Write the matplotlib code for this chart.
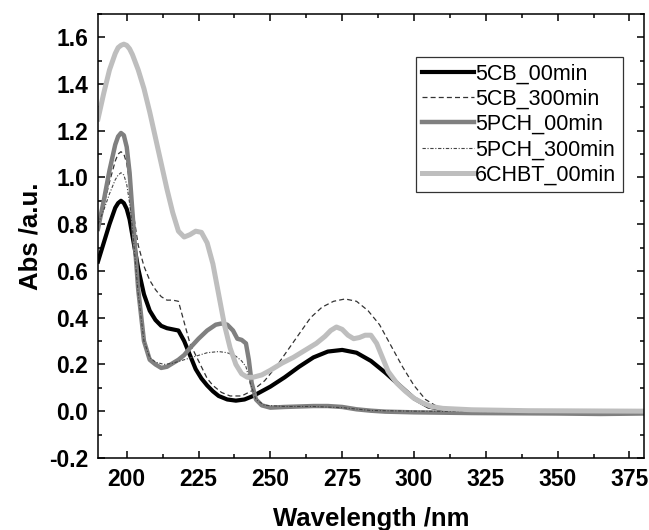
import matplotlib.pyplot as plt
from matplotlib.ticker import MultipleLocator

# UV-Vis spectra
wl_5cb_00 = [190, 192, 194, 196, 197, 198, 199, 200, 201, 202, 204, 206, 208, 210, 212,
             214, 216, 218, 220, 222, 224, 226, 228, 230, 232, 235, 238, 241, 244, 247,
             250, 255, 260, 265, 270, 275, 280, 285, 290, 295, 300, 305, 310, 320, 340,
             380]
abs_5cb_00 = [0.64, 0.72, 0.80, 0.87, 0.89, 0.90, 0.89, 0.865, 0.82, 0.75, 0.61, 0.50,
              0.43, 0.39, 0.365, 0.355, 0.35, 0.345, 0.30, 0.24, 0.18, 0.14, 0.11, 0.085,
              0.065, 0.05, 0.045, 0.05, 0.065, 0.085, 0.105, 0.145, 0.19, 0.23, 0.255,
              0.262, 0.25, 0.215, 0.165, 0.11, 0.055, 0.02, 0.008, 0.003, 0.0, 0.0]

wl_5cb_300 = [190, 192, 194, 196, 197, 198, 199, 200, 201, 202, 204, 206, 208, 210, 212,
              214, 216, 218, 220, 222, 224, 226, 228, 230, 233, 236, 240, 244, 248, 252,
              256, 260, 264, 268, 272, 276, 280, 284, 288, 292, 296, 300, 304, 308, 312,
              320, 340, 380]
abs_5cb_300 = [0.80, 0.88, 0.98, 1.07, 1.10, 1.11, 1.10, 1.06, 0.98, 0.87, 0.71, 0.62,
               0.56, 0.52, 0.49, 0.475, 0.475, 0.47, 0.38, 0.29, 0.24, 0.19, 0.14, 0.11,
               0.08, 0.065, 0.065, 0.09, 0.13, 0.19, 0.26, 0.33, 0.40, 0.445, 0.47, 0.48,
               0.47, 0.43, 0.37, 0.28, 0.19, 0.11, 0.05, 0.02, 0.01, 0.003, 0.0, 0.0]

wl_5pch_00 = [190, 192, 194, 196, 197, 198, 199, 200, 201, 202, 204, 206, 208, 210, 212,
              214, 216, 218, 220, 222, 225, 228, 231, 233, 235, 237, 238.5, 240, 241.5,
              242.5, 243.5, 245, 247, 250, 255, 260, 265, 270, 275, 280, 285, 290, 300,
              320, 350, 365, 380]
abs_5pch_00 = [0.78, 0.90, 1.03, 1.14, 1.175, 1.19, 1.18, 1.13, 1.02, 0.85, 0.52, 0.30,
               0.22, 0.20, 0.185, 0.19, 0.205, 0.22, 0.24, 0.27, 0.31, 0.345, 0.37,
               0.375, 0.37, 0.345, 0.31, 0.305, 0.29, 0.22, 0.12, 0.05, 0.025, 0.015,
               0.018, 0.02, 0.022, 0.022, 0.018, 0.008, 0.002, -0.002, -0.005, -0.008,
               -0.01, -0.012, -0.01]

wl_5pch_300 = [190, 192, 194, 196, 197, 198, 199, 200, 201, 202, 204, 206, 208, 210, 213,
               216, 220, 224, 228, 232, 235, 238, 240, 241.5, 243, 245, 248, 255, 265,
               275, 285, 300, 380]
abs_5pch_300 = [0.80, 0.86, 0.93, 0.99, 1.01, 1.02, 1.01, 0.97, 0.89, 0.78, 0.50, 0.30,
                0.23, 0.21, 0.20, 0.205, 0.22, 0.235, 0.25, 0.255, 0.25, 0.235, 0.215,
                0.19, 0.12, 0.05, 0.025, 0.02, 0.02, 0.015, 0.003, 0.0, -0.005]

wl_6chbt_00 = [190, 192, 194, 196, 197, 198, 199, 200, 201, 202, 204, 206, 208, 210, 212,
               214, 216, 218, 220, 222, 224, 226, 228, 230, 232, 234, 236, 238, 240, 242,
               244, 247, 250, 254, 258, 262, 266, 269, 271, 273, 275, 277, 279, 281, 283,
               285, 287, 289, 291, 294, 297, 300, 303, 306, 310, 320, 340, 380]
abs_6chbt_00 = [1.25, 1.36, 1.46, 1.53, 1.555, 1.565, 1.57, 1.565, 1.55, 1.525, 1.46,
                1.38, 1.28, 1.17, 1.06, 0.95, 0.85, 0.77, 0.745, 0.755, 0.77, 0.765,
                0.72, 0.63, 0.50, 0.37, 0.27, 0.20, 0.16, 0.145, 0.145, 0.155, 0.175,
                0.205, 0.23, 0.26, 0.29, 0.32, 0.345, 0.36, 0.35, 0.325, 0.31, 0.315,
                0.325, 0.325, 0.29, 0.23, 0.17, 0.12, 0.085, 0.055, 0.035, 0.02, 0.012,
                0.006, 0.002, 0.0]

plt.rcParams['font.family'] = ['Liberation Sans', 'DejaVu Sans']

fig = plt.figure(figsize=(6.49, 5.30), dpi=100)
ax = fig.add_axes([0.151, 0.136, 0.841, 0.838])

ax.plot(wl_5cb_00, abs_5cb_00, color='black', lw=3.0, label='5CB_00min')
ax.plot(wl_5cb_300, abs_5cb_300, color='#333333', lw=0.9, ls=(0, (4, 2.5)),
        label='5CB_300min')
ax.plot(wl_5pch_00, abs_5pch_00, color='#808080', lw=3.2, label='5PCH_00min')
ax.plot(wl_5pch_300, abs_5pch_300, color='#444444', lw=0.8,
        ls=(0, (3, 1.5, 1, 1.5)), label='5PCH_300min')
ax.plot(wl_6chbt_00, abs_6chbt_00, color='#bebebe', lw=3.6, label='6CHBT_00min')

ax.set_xlim(190, 380)
ax.set_ylim(-0.2, 1.7)
ax.xaxis.set_major_locator(MultipleLocator(25))
ax.xaxis.set_minor_locator(MultipleLocator(12.5))
ax.yaxis.set_minor_locator(MultipleLocator(0.1))
ax.set_yticks([-0.2, 0.0, 0.2, 0.4, 0.6, 0.8, 1.0, 1.2, 1.4, 1.6])
ax.yaxis.set_major_formatter(plt.FuncFormatter(lambda v, p: f'{v:.1f}'))

ax.tick_params(which='both', direction='in', top=True, right=True, width=1.1)
ax.tick_params(which='major', length=5, labelsize=16.5, pad=7)
ax.tick_params(which='minor', length=2.8)
for lab in ax.get_xticklabels() + ax.get_yticklabels():
    lab.set_fontweight('bold')
for sp in ax.spines.values():
    sp.set_linewidth(1.1)

ax.set_xlabel('Wavelength /nm', fontsize=18.5, fontweight='bold', labelpad=12)
ax.set_ylabel('Abs /a.u.', fontsize=18.5, fontweight='bold', labelpad=5)

leg = ax.legend(loc='upper right', bbox_to_anchor=(0.9615, 0.903), borderaxespad=0,
                fontsize=15.5, handlelength=2.4, handletextpad=0.05, labelspacing=0.2,
                borderpad=0.3, fancybox=False, framealpha=1, edgecolor='#333333')
leg.get_frame().set_linewidth(0.9)

fig.savefig('out.png', dpi=100)
